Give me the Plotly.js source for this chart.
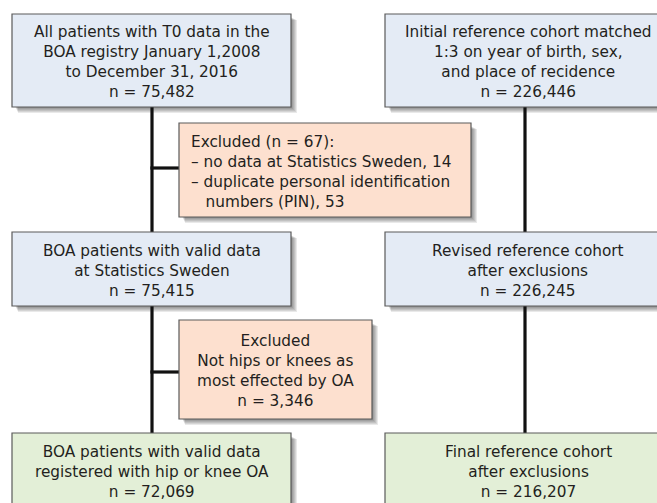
<!DOCTYPE html>
<html>
<head>
<meta charset="utf-8">
<script src="https://cdn.plot.ly/plotly-3.0.1.min.js"></script>
<style>html,body{margin:0;padding:0;background:#fff;}#chart{width:657px;height:503px;}</style>
</head>
<body>
<div id="chart"></div>
<script>
// ---- Data (texts of the flow chart) ----
const patientSteps = [
  ["All patients with T0 data in the", "BOA registry January 1,2008", "to December 31, 2016", "n = 75,482"],
  ["BOA patients with valid data", "at Statistics Sweden", "n = 75,415"],
  ["BOA patients with valid data", "registered with hip or knee OA", "n = 72,069"]
];
const referenceSteps = [
  ["Initial reference cohort matched", "1:3 on year of birth, sex,", "and place of recidence", "n = 226,446"],
  ["Revised reference cohort", "after exclusions", "n = 226,245"],
  ["Final reference cohort", "after exclusions", "n = 216,207"]
];
const exclusionSteps = [
  ["Excluded (n = 67):", "\u2013 no data at Statistics Sweden, 14", "\u2013 duplicate personal identification", "\u00a0\u00a0\u00a0numbers (PIN), 53"],
  ["Excluded", "Not hips or knees as", "most effected by OA", "n = 3,346"]
];
const stepKinds = ["start", "middle", "final"];

// ---- Layout geometry (pixels) and styles ----
const W = 657, H = 503;
const colLeft = {x0: 12, x1: 291, line: 152};
const colRight = {x0: 385, x1: 664, line: 525};
const rows = [{y0: 14, y1: 107}, {y0: 232, y1: 306}, {y0: 433, y1: 525}];
const exclBoxes = [
  {x0: 179, x1: 471, y0: 123, y1: 217, connY: 168, align: "left", tx: 189},
  {x0: 179, x1: 372, y0: 320, y1: 419, connY: 372, align: "center"}
];
const fills = {start: "#e4ebf5", middle: "#e4ebf5", final: "#e3efd7", excl: "#fde0cf"};
const border = "#5a5a5a";
const font = {family: "DejaVu Sans, Liberation Sans, Arial, sans-serif", size: 15.3, color: "#231f20"};

const shapes = [];
const annotations = [];

function shadow(b) {
  for (let i = 1; i <= 6; i++) {
    shapes.push({type: "rect", xref: "x", yref: "y",
      x0: b.x0 + 3 + i * 0.5, x1: b.x1 + i, y0: b.y0 + 3 + i * 0.5, y1: b.y1 + i,
      fillcolor: "rgba(0,0,0,0.085)", line: {width: 0}});
  }
}
function box(b, fill) {
  shapes.push({type: "rect", xref: "x", yref: "y", x0: b.x0, x1: b.x1, y0: b.y0, y1: b.y1,
    fillcolor: fill, line: {color: border, width: 1.2}});
}
function line(x0, y0, x1, y1) {
  shapes.push({type: "line", xref: "x", yref: "y", x0, y0, x1, y1, line: {color: "#111", width: 3.2}});
}

// shadows first
rows.forEach(r => { shadow({x0: colLeft.x0, x1: colLeft.x1, y0: r.y0, y1: r.y1}); shadow({x0: colRight.x0, x1: colRight.x1, y0: r.y0, y1: r.y1}); });
exclBoxes.forEach(e => shadow(e));

// connector lines
line(colLeft.line, rows[0].y1, colLeft.line, rows[2].y0);
line(colRight.line, rows[0].y1, colRight.line, rows[2].y0);
exclBoxes.forEach(e => line(colLeft.line - 1.6, e.connY, e.x0, e.connY));

// boxes and texts
rows.forEach((r, i) => {
  const fill = fills[stepKinds[i]];
  [[colLeft, patientSteps[i]], [colRight, referenceSteps[i]]].forEach(([c, txt]) => {
    box({x0: c.x0, x1: c.x1, y0: r.y0, y1: r.y1}, fill);
    const ty = i === 2 ? 472 : (r.y0 + r.y1) / 2 + 1.5;
    const tx = c === colRight ? 528 : (c.x0 + c.x1) / 2;
    annotations.push({xref: "x", yref: "y", x: tx, y: ty, text: txt.join("<br>"),
      showarrow: false, align: "center", xanchor: "center", yanchor: "middle", font});
  });
});
exclBoxes.forEach((e, i) => {
  box(e, fills.excl);
  const left = e.align === "left";
  annotations.push({xref: "x", yref: "y", x: left ? e.tx : (e.x0 + e.x1) / 2, y: (e.y0 + e.y1) / 2 + 1.5,
    text: exclusionSteps[i].join("<br>"), showarrow: false, align: e.align,
    xanchor: left ? "left" : "center", yanchor: "middle", font});
});

const layout = {
  width: W, height: H,
  margin: {l: 0, r: 0, t: 0, b: 0, pad: 0},
  paper_bgcolor: "#fff", plot_bgcolor: "#fff",
  xaxis: {range: [0, W], visible: false, fixedrange: true},
  yaxis: {range: [H, 0], visible: false, fixedrange: true},
  showlegend: false,
  shapes, annotations
};
Plotly.newPlot("chart", [], layout, {staticPlot: true, displayModeBar: false});
</script>
</body>
</html>
